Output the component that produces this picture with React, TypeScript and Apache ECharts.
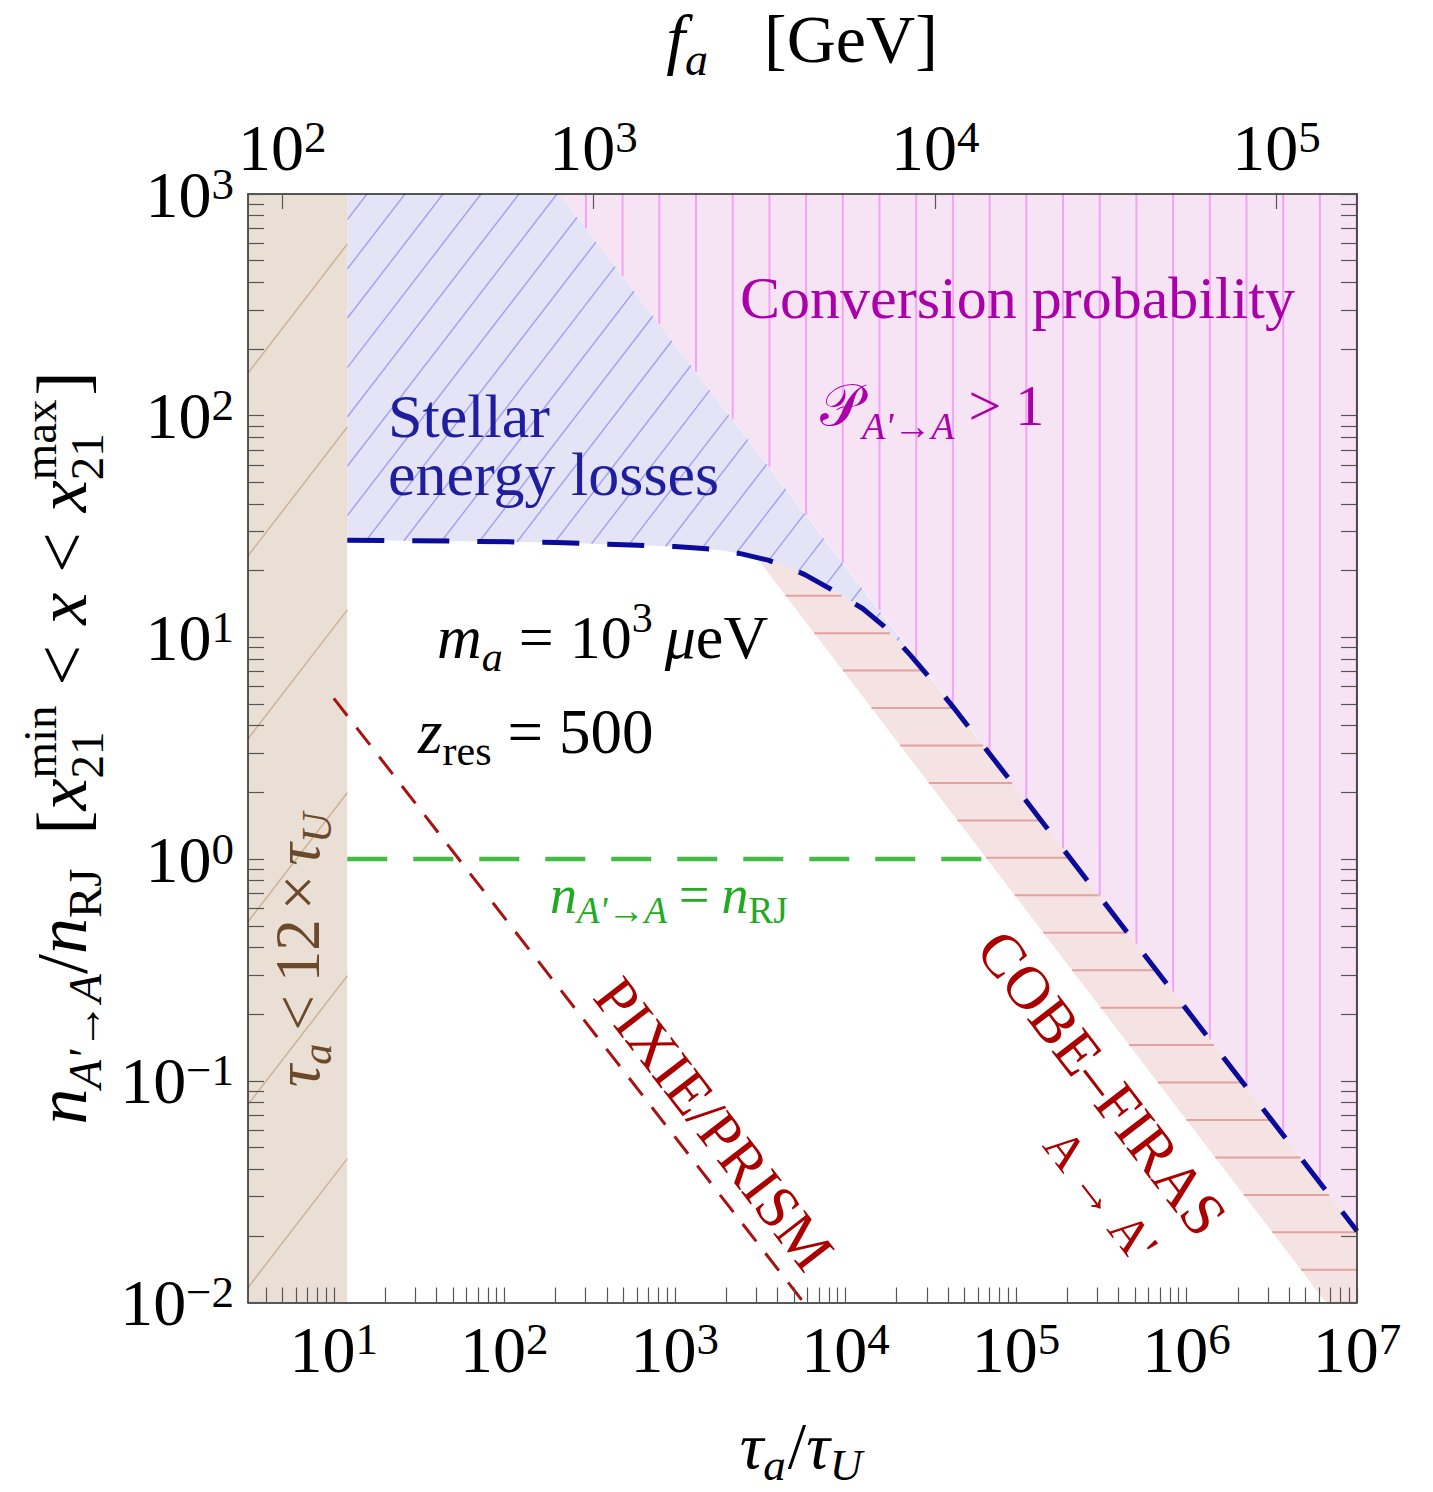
import { useEffect, useRef } from 'react';
import * as echarts from 'echarts';

const FONT = '"Liberation Serif", "Times New Roman", serif';

// ---- axes ----
const X_MIN = 3.14;
const X_MAX = 1e7;
const Y_MIN = 0.01;
const Y_MAX = 1000;
const xDecades = [1, 10, 100, 1e3, 1e4, 1e5, 1e6];
const yDecades = [0.01, 0.1, 1, 10, 100];
const tickMantissas = [1, 2, 3, 4, 5, 6, 7, 8, 9];
const xLabelValues = [10, 100, 1e3, 1e4, 1e5, 1e6, 1e7];
const yLabelValues = [0.01, 0.1, 1, 10, 100, 1000];
const topTickTau = [4.98, 333, 33650, 3.37e6];
const topTickExp = ['2', '3', '4', '5'];

// ---- data (tau_a/tau_U , n/n_RJ) ----
const tauLimit = 12;
const stellarCurve: number[][] = [
  [12, 27.4], [50, 27.2], [200, 26.8], [500, 26.2], [1000, 25.7], [1466, 25.2],
  [2000, 24.5], [2461, 23.8], [3524, 22.3], [4500, 20.9], [5780, 19.2], [8110, 16.6],
  [12620, 13.5], [16670, 11.3], [24120, 8.3], [30600, 6.7], [42860, 4.85],
  [1e5, 2.1], [1e6, 0.21], [1e7, 0.021],
];
const stellarJoinTau = 42860;
const conversionEdge: number[][] = [[210, 1000], [1e7, 0.021]];
const cobeEdge: number[][] = [[3013, 22.9], [6.58e6, 0.01]];
const rjLine: number[][] = [[12, 1], [6.7e4, 1]];
const pixieLine: number[][] = [[10, 5.31], [6000, 0.0095]];

const xTickValues = [...xDecades.flatMap((d) => tickMantissas.map((m) => m * d)), 1e7].filter(
  (v) => v >= X_MIN && v <= X_MAX
);
const yTickValues = [...yDecades.flatMap((d) => tickMantissas.map((m) => m * d)), 1000];

const brownPoly = [[X_MIN, Y_MIN], [tauLimit, Y_MIN], [tauLimit, Y_MAX], [X_MIN, Y_MAX]];
const bluePoly = [...stellarCurve.filter((p) => p[0] <= stellarJoinTau), conversionEdge[0], [tauLimit, Y_MAX]];
const pinkPoly = [conversionEdge[0], conversionEdge[1], [X_MAX, Y_MAX]];
const cobePoly = [
  cobeEdge[0],
  ...stellarCurve.filter((p) => p[0] > cobeEdge[0][0]),
  [X_MAX, Y_MIN],
  cobeEdge[1],
];

type Hatch = { angle: number; spacing: number; through: number[]; color: string; width: number };

function hatchLines(pts: number[][], h: Hatch) {
  const a = (h.angle * Math.PI) / 180;
  const dx = Math.cos(a);
  const dy = -Math.sin(a);
  const nx = -dy;
  const ny = dx;
  const proj = pts.map((p) => p[0] * nx + p[1] * ny);
  const c0 = h.through[0] * nx + h.through[1] * ny;
  const mn = Math.min(...proj);
  const mx = Math.max(...proj);
  const out: number[][] = [];
  const k0 = Math.ceil((mn - c0) / h.spacing);
  const k1 = Math.floor((mx - c0) / h.spacing);
  for (let k = k0; k <= k1; k++) {
    const c = c0 + k * h.spacing;
    const hits: { s: number; x: number; y: number }[] = [];
    for (let i = 0; i < pts.length; i++) {
      const j = (i + 1) % pts.length;
      const fa = proj[i] - c;
      const fb = proj[j] - c;
      if (fa < 0 !== fb < 0) {
        const t = fa / (fa - fb);
        const x = pts[i][0] + t * (pts[j][0] - pts[i][0]);
        const y = pts[i][1] + t * (pts[j][1] - pts[i][1]);
        hits.push({ s: x * dx + y * dy, x, y });
      }
    }
    hits.sort((p, q) => p.s - q.s);
    for (let m = 0; m + 1 < hits.length; m += 2) {
      out.push([hits[m].x, hits[m].y, hits[m + 1].x, hits[m + 1].y]);
    }
  }
  return out;
}

function regionSeries(name: string, poly: number[][], fill: string, hatch: Hatch) {
  return {
    type: 'custom',
    name,
    coordinateSystem: 'cartesian2d',
    xAxisIndex: 0,
    yAxisIndex: 0,
    silent: true,
    z: 1,
    data: [[100, 1]],
    renderItem: (params: any, api: any) => {
      const pts = poly.map((p) => api.coord(p));
      const ox = params.coordSys.x;
      const oy = params.coordSys.y;
      const h = { ...hatch, through: [ox + hatch.through[0], oy + hatch.through[1]] };
      const segs = hatchLines(pts, h);
      return {
        type: 'group',
        children: [
          { type: 'polygon', shape: { points: pts }, style: { fill, stroke: null } },
          ...segs.map((s) => ({
            type: 'line',
            shape: { x1: s[0], y1: s[1], x2: s[2], y2: s[3] },
            style: { stroke: hatch.color, lineWidth: hatch.width },
          })),
        ],
      };
    },
  };
}

// ---- math text layout ----
type Piece = { t: string; s: number; i?: boolean; dy?: number; dx?: number; c?: string; over?: boolean };
let measureCtx: CanvasRenderingContext2D | null = null;
function measure(t: string, s: number, italic?: boolean) {
  if (!measureCtx) measureCtx = document.createElement('canvas').getContext('2d');
  measureCtx!.font = `${italic ? 'italic ' : ''}${s}px ${FONT}`;
  return measureCtx!.measureText(t).width;
}
function mathText(
  pieces: Piece[],
  x: number,
  y: number,
  color: string,
  align: 'left' | 'center' = 'left',
  rotation = 0
) {
  let cx = 0;
  let lastStart = 0;
  let lastW = 0;
  const items: any[] = [];
  for (const p of pieces) {
    const w = measure(p.t, p.s, p.i);
    let startX: number;
    if (p.over) {
      startX = lastStart;
      const end = Math.max(lastStart + lastW, startX + w);
      cx = end;
      lastW = end - lastStart;
    } else {
      startX = cx + (p.dx || 0);
      cx = startX + w;
      lastStart = startX;
      lastW = w;
    }
    items.push({
      type: 'text',
      x: startX,
      y: (p.dy || 0) - 0.3375 * p.s,
      z: 20,
      silent: true,
      style: {
        text: p.t,
        fontSize: p.s,
        fontFamily: FONT,
        fontStyle: p.i ? 'italic' : 'normal',
        fill: p.c || color,
        align: 'left',
        textAlign: 'left',
        verticalAlign: 'middle',
        textVerticalAlign: 'middle',
      },
    });
  }
  const off = align === 'center' ? -cx / 2 : 0;
  items.forEach((it) => (it.x += off));
  return { type: 'group', x, y, rotation, silent: true, z: 20, children: items };
}

function rotText(t: string, x: number, y: number, s: number, color: string, deg: number, italic = false) {
  return {
    type: 'text',
    x,
    y,
    rotation: (deg * Math.PI) / 180,
    silent: true,
    z: 20,
    style: {
      text: t,
      fontSize: s,
      fontFamily: FONT,
      fontStyle: italic ? 'italic' : 'normal',
      fill: color,
      align: 'center',
      textAlign: 'center',
      verticalAlign: 'middle',
      textVerticalAlign: 'middle',
    },
  };
}

const rich = {
  b: { fontSize: 66, fontFamily: FONT, color: '#000', lineHeight: 66 },
  e: { fontSize: 45, fontFamily: FONT, color: '#000', lineHeight: 34, verticalAlign: 'top' },
};
function expOf(v: number) {
  const e = Math.round(Math.log10(v));
  return e < 0 ? '\u2212' + String(-e) : String(e);
}
const supFmt = (v: number) => `{b|10}{e|${expOf(v)}}`;
const topFmt = (v: number) => {
  let best = 0;
  topTickTau.forEach((t, i) => {
    if (Math.abs(Math.log10(t) - Math.log10(v)) < Math.abs(Math.log10(topTickTau[best]) - Math.log10(v))) best = i;
  });
  return `{b|10}{e|${topTickExp[best]}}`;
};

const tickStyle = { color: '#555', width: 1.2 };
const lineStyleAxis = { color: '#222', width: 1.5 };

export default function App() {
  const ref = useRef<HTMLDivElement>(null);
  useEffect(() => {
    if (!ref.current) return;
    const chart = echarts.init(ref.current, undefined, { renderer: 'svg' });
    const purple = '#aa00aa';
    const dred = '#aa0000';
    const option: any = {
      animation: false,
      backgroundColor: '#fff',
      grid: { left: 248, top: 194, width: 1109, height: 1108.5, containLabel: false },
      xAxis: [
        {
          type: 'log',
          position: 'bottom',
          min: X_MIN,
          max: X_MAX,
          z: 10,
          axisLine: { show: true, onZero: false, lineStyle: lineStyleAxis },
          axisTick: { show: true, inside: true, length: 15, lineStyle: tickStyle, customValues: xTickValues },
          minorTick: { show: false },
          splitLine: { show: false },
          axisLabel: { show: true, margin: 14, customValues: xLabelValues, formatter: supFmt, rich },
        },
        {
          type: 'log',
          position: 'top',
          min: X_MIN,
          max: X_MAX,
          z: 10,
          axisLine: { show: true, onZero: false, lineStyle: lineStyleAxis },
          axisTick: { show: true, inside: true, length: 15, lineStyle: tickStyle, customValues: topTickTau },
          minorTick: { show: false },
          splitLine: { show: false },
          axisLabel: { show: true, margin: 14, customValues: topTickTau, formatter: topFmt, rich },
        },
      ],
      yAxis: [
        {
          type: 'log',
          position: 'left',
          min: Y_MIN,
          max: Y_MAX,
          z: 10,
          axisLine: { show: true, onZero: false, lineStyle: lineStyleAxis },
          axisTick: { show: true, inside: true, length: 16, lineStyle: tickStyle, customValues: yTickValues },
          minorTick: { show: false },
          splitLine: { show: false },
          axisLabel: { show: true, margin: 14, customValues: yLabelValues, formatter: supFmt, rich },
        },
        {
          type: 'log',
          position: 'right',
          min: Y_MIN,
          max: Y_MAX,
          z: 10,
          axisLine: { show: true, onZero: false, lineStyle: lineStyleAxis },
          axisTick: { show: true, inside: true, length: 16, lineStyle: tickStyle, customValues: yTickValues },
          minorTick: { show: false },
          splitLine: { show: false },
          axisLabel: { show: false },
        },
      ],
      series: [
        regionSeries('Conversion probability > 1', pinkPoly, '#f6e4f5', {
          angle: 90, spacing: 36.7, through: [337.9, 0], color: '#f3a3f3', width: 2,
        }),
        regionSeries('Stellar energy losses', bluePoly, '#e4e4f6', {
          angle: 52.4, spacing: 30.1, through: [99, 26], color: '#a3a3f0', width: 1.5,
        }),
        regionSeries('COBE-FIRAS', cobePoly, '#f5e3e3', {
          angle: 0, spacing: 37.45, through: [0, 401.7], color: '#e2a2a2', width: 2,
        }),
        regionSeries('tau < 12 tau_U', brownPoly, '#e9dfd5', {
          angle: 52.4, spacing: 111.6, through: [0, 179], color: '#cdb397', width: 1.5,
        }),
        {
          type: 'line', name: 'Stellar bound', data: stellarCurve, symbol: 'none', silent: true, z: 5,
          lineStyle: { color: '#0b0b9b', width: 5, type: [37, 28], cap: 'butt' },
        },
        {
          type: 'line', name: 'n = n_RJ', data: rjLine, symbol: 'none', silent: true, z: 5,
          lineStyle: { color: '#44bb44', width: 4.5, type: [40, 26], cap: 'butt' },
        },
        {
          type: 'line', name: 'PIXIE/PRISM', data: pixieLine, symbol: 'none', silent: true, z: 5, clip: false,
          lineStyle: { color: '#aa1111', width: 3, type: [22, 15], cap: 'butt' },
        },
      ],
      graphic: [
        mathText([
          { t: 'f', s: 68, i: true },
          { t: 'a', s: 46, i: true, dy: 13 },
          { t: '[GeV]', s: 68, dx: 56 },
        ], 802, 62, '#000', 'center'),
        mathText([
          { t: '\u03c4', s: 66, i: true },
          { t: 'a', s: 45, i: true, dy: 12 },
          { t: '/', s: 66, dx: 2 },
          { t: '\u03c4', s: 66, i: true },
          { t: 'U', s: 45, i: true, dy: 12 },
        ], 801, 1468, '#000', 'center'),
        mathText([
          { t: 'n', s: 72, i: true },
          { t: "A'\u2192A", s: 47, i: true, dy: 15 },
          { t: '/', s: 72 },
          { t: 'n', s: 72, i: true },
          { t: 'RJ', s: 47, dy: 15 },
          { t: '[', s: 72, dx: 34 },
          { t: 'x', s: 72, i: true },
          { t: 'min', s: 47, dy: -30 },
          { t: '21', s: 47, dy: 17, over: true },
          { t: '<', s: 72, dx: 20 },
          { t: 'x', s: 72, i: true, dx: 20 },
          { t: '<', s: 72, dx: 20 },
          { t: 'x', s: 72, i: true, dx: 20 },
          { t: 'max', s: 47, dy: -30 },
          { t: '21', s: 47, dy: 17, over: true },
          { t: ']', s: 72, dx: 4 },
        ], 86, 748, '#000', 'center', Math.PI / 2),
        mathText([{ t: 'Conversion probability', s: 60 }], 740, 318, purple),
        mathText([
          { t: '\ud835\udcab', s: 58 },
          { t: "A'\u2192A", s: 38, i: true, dy: 14 },
          { t: '>', s: 58, dx: 14 },
          { t: '1', s: 58, dx: 14 },
        ], 820, 425, purple),
        {
          type: 'text',
          x: 388,
          y: 387,
          z: 20,
          silent: true,
          style: {
            text: 'Stellar\nenergy losses',
            fontSize: 62,
            lineHeight: 58,
            fontFamily: FONT,
            fill: '#1f1f9e',
            align: 'left',
            textAlign: 'left',
            verticalAlign: 'top',
            textVerticalAlign: 'top',
          },
        },
        mathText([
          { t: 'm', s: 62, i: true },
          { t: 'a', s: 42, i: true, dy: 13 },
          { t: '=', s: 62, dx: 16 },
          { t: '10', s: 62, dx: 16 },
          { t: '3', s: 42, dy: -26 },
          { t: '\u03bc', s: 62, i: true, dx: 12 },
          { t: 'eV', s: 62 },
        ], 437, 658, '#000'),
        mathText([
          { t: 'z', s: 63, i: true },
          { t: 'res', s: 42, dy: 12 },
          { t: '=', s: 63, dx: 16 },
          { t: '500', s: 63, dx: 16 },
        ], 418, 753, '#000'),
        mathText([
          { t: 'n', s: 54, i: true },
          { t: "A'\u2192A", s: 37, i: true, dy: 10 },
          { t: '=', s: 54, dx: 12 },
          { t: 'n', s: 54, i: true, dx: 12 },
          { t: 'RJ', s: 37, dy: 10 },
        ], 550, 913, '#22aa22'),
        mathText([
          { t: '\u03c4', s: 63, i: true },
          { t: 'a', s: 42, i: true, dy: 12 },
          { t: '<', s: 63, dx: 13 },
          { t: '12', s: 63, dx: 13 },
          { t: '\u00d7', s: 63, dx: 9 },
          { t: '\u03c4', s: 63, i: true, dx: 9 },
          { t: 'U', s: 42, i: true, dy: 12 },
        ], 319, 950, '#6b4a2b', 'center', Math.PI / 2),
        rotText('PIXIE/PRISM', 714, 1124, 60, dred, -52.4),
        rotText('COBE\u2013FIRAS', 1102, 1083, 61, dred, -52.4),
        rotText("A \u2192 A'", 1101, 1195, 50, dred, -52.4),
      ],
    };
    chart.setOption(option);
    return () => chart.dispose();
  }, []);
  return <div ref={ref} style={{ position: 'absolute', left: 0, top: 0, width: 1433, height: 1492 }} />;
}
